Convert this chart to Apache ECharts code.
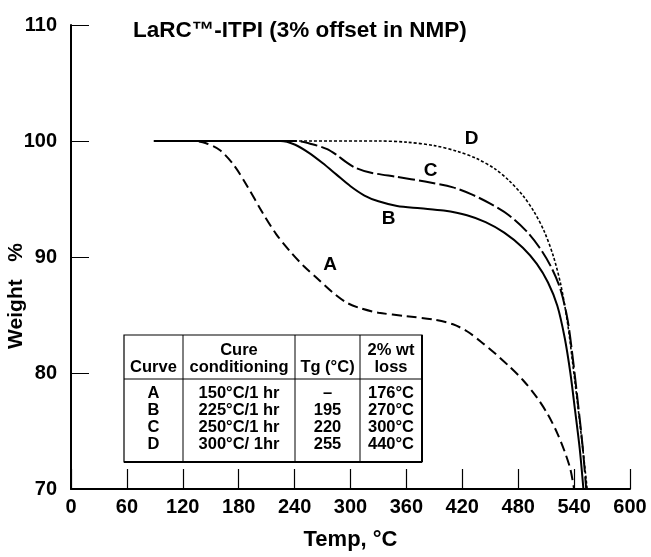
<!DOCTYPE html>
<html style="height: 100%">
<head>
<meta charset="utf-8">
<style type="text/css">
* {
	margin: 0;
	padding: 0;
}
</style>
</head>
<body style="height: 100%; margin: 0; background: #fff">
	<div id="main" style="width: 651px; height: 557px"></div>
	<script type="text/javascript" src="https://cdn.jsdelivr.net/npm/echarts/dist/echarts.min.js"></script>
	<script type="text/javascript">
	// TGA curves, [temp C, weight %]
	var curveA = [[89, 100], [130, 100], [145, 99.8], [160, 99.2], [175, 97.9], [190, 96.0], [205, 93.9],
		[220, 92.0], [235, 90.5], [250, 89.2], [265, 88.1], [280, 87.0], [295, 86.1], [310, 85.6],
		[330, 85.2], [360, 84.9], [390, 84.6], [410, 84.2], [425, 83.6], [440, 82.7], [455, 81.7],
		[470, 80.6], [485, 79.4], [500, 77.9], [512, 76.4], [522, 74.8], [530, 73.2], [536, 71.7], [540, 70]];
	var curveB = [[89, 100], [225, 100], [240, 99.7], [255, 99.0], [270, 98.1], [285, 97.1], [300, 96.1],
		[315, 95.3], [330, 94.8], [350, 94.4], [375, 94.2], [400, 94.0], [425, 93.6], [445, 93.0],
		[465, 92.1], [485, 90.8], [500, 89.4], [512, 87.8], [522, 85.8], [530, 83.0], [536, 80.0],
		[541, 76.8], [546, 73.5], [550, 70]];
	var curveC = [[89, 100], [240, 100], [260, 99.7], [275, 99.3], [285, 98.8], [295, 98.2], [305, 97.7],
		[320, 97.3], [350, 96.9], [380, 96.5], [410, 96.0], [430, 95.4], [450, 94.6], [470, 93.6],
		[488, 92.3], [503, 90.8], [515, 89.2], [525, 87.3], [533, 84.6], [539, 81.0], [544, 77.5],
		[549, 73.8], [553, 70]];
	var curveD = [[89, 100], [330, 100], [360, 99.9], [390, 99.6], [415, 99.1], [435, 98.5], [455, 97.6],
		[470, 96.6], [485, 95.3], [497, 93.9], [508, 92.2], [518, 90.0], [526, 87.5], [533, 84.3],
		[539, 80.5], [545, 76.5], [550, 73.0], [554, 70]];

	var curveNames = ['A', 'B', 'C', 'D'];
	var curveLabelAt = [[278, 89.3], [341, 93.3], [386, 97.4], [430, 100.15]];

	var xTicks = [0, 600, 60];   // min, max, step
	var yTicks = [70, 110, 10];

	var tableHead = [['', 'Curve'], ['Cure', 'conditioning'], ['', 'Tg (°C)'], ['2% wt', 'loss']];
	var tableRows = [
		['A', '150°C/1 hr', '–', '176°C'],
		['B', '225°C/1 hr', '195', '270°C'],
		['C', '250°C/1 hr', '220', '300°C'],
		['D', '300°C/ 1hr', '255', '440°C']
	];

	var font = '"Liberation Sans", Arial, Helvetica, sans-serif';

	// table layout (pixels)
	var tLeft = 124, tTop = 335, tRight = 422, tBottom = 462, tHeadLine = 379;
	var colEdges = [124, 183, 295, 360, 422];
	var graphics = [];
	graphics.push({type: 'rect', shape: {x: tLeft, y: tTop, width: tRight - tLeft, height: tBottom - tTop},
		style: {fill: '#fff', stroke: '#000', lineWidth: 1.2}, z: 10});
	graphics.push({type: 'line', shape: {x1: tRight, y1: tTop, x2: tRight, y2: tBottom}, style: {stroke: '#000', lineWidth: 2}, z: 11});
	graphics.push({type: 'line', shape: {x1: tLeft, y1: tBottom, x2: tRight, y2: tBottom}, style: {stroke: '#000', lineWidth: 2}, z: 11});
	graphics.push({type: 'line', shape: {x1: tLeft, y1: tHeadLine, x2: tRight, y2: tHeadLine}, style: {stroke: '#000', lineWidth: 1}, z: 11});
	for (var c = 1; c < colEdges.length - 1; c++) {
		graphics.push({type: 'line', shape: {x1: colEdges[c], y1: tTop, x2: colEdges[c], y2: tBottom},
			style: {stroke: '#000', lineWidth: 1}, z: 11});
	}
	for (var c = 0; c < tableHead.length; c++) {
		var cx = (colEdges[c] + colEdges[c + 1]) / 2;
		for (var l = 0; l < 2; l++) {
			graphics.push({type: 'text', x: cx, y: 350 + l * 17, z: 12,
				style: {text: tableHead[c][l], font: 'bold 16.5px ' + font, fill: '#000', align: 'center', verticalAlign: 'middle'}});
		}
		for (var r = 0; r < tableRows.length; r++) {
			graphics.push({type: 'text', x: cx, y: 393 + r * 17, z: 12,
				style: {text: tableRows[r][c], font: 'bold 16.5px ' + font, fill: '#000', align: 'center', verticalAlign: 'middle'}});
		}
	}
	// y axis title
	graphics.push({type: 'text', x: 16, y: 296, rotation: Math.PI / 2,
		style: {text: 'Weight   %', font: 'bold 21px ' + font, fill: '#000', align: 'center', verticalAlign: 'middle'}});

	var styles = [
		{type: [10, 5], width: 2},
		{type: 'solid', width: 2},
		{type: [17, 4], width: 2},
		{type: [3, 2], width: 1.6}
	];
	var curves = [curveA, curveB, curveC, curveD];
	var series = curves.map(function (d, i) {
		return {
			type: 'line', name: curveNames[i], data: d, showSymbol: false,
			smooth: 0.3, animation: false,
			lineStyle: {color: '#000', width: styles[i].width, type: styles[i].type}
		};
	});
	series.push({
		type: 'scatter', symbolSize: 0, animation: false,
		itemStyle: {opacity: 1, color: '#000'},
		data: curveLabelAt.map(function (p, i) { return {name: curveNames[i], value: p}; }),
		label: {show: true, position: 'inside', formatter: '{b}', color: '#000',
			fontFamily: font, fontWeight: 'bold', fontSize: 19}
	});

	var myChart = echarts.init(document.getElementById('main'));
	myChart.setOption({
		backgroundColor: '#fff',
		animation: false,
		title: {
			text: 'LaRC™-ITPI (3% offset in NMP)', left: 128, top: 14,
			textStyle: {fontFamily: font, fontWeight: 'bold', fontSize: 22.5, color: '#000'}
		},
		grid: {left: 71, right: 21, top: 25, bottom: 68},
		xAxis: {
			type: 'value', min: xTicks[0], max: xTicks[1], interval: xTicks[2],
			name: 'Temp, °C', nameLocation: 'middle', nameGap: 40,
			nameTextStyle: {fontFamily: font, fontWeight: 'bold', fontSize: 22, color: '#000'},
			axisLine: {lineStyle: {color: '#000', width: 2}},
			axisTick: {inside: true, length: 20, lineStyle: {color: '#000', width: 1.2}},
			axisLabel: {fontFamily: font, fontWeight: 'bold', fontSize: 20, color: '#000', margin: 8},
			splitLine: {show: false}
		},
		yAxis: {
			type: 'value', min: yTicks[0], max: yTicks[1], interval: yTicks[2],
			axisLine: {show: true, lineStyle: {color: '#000', width: 2}},
			axisTick: {show: true, inside: true, length: 18, lineStyle: {color: '#000', width: 1}},
			axisLabel: {fontFamily: font, fontWeight: 'bold', fontSize: 20, color: '#000', margin: 14},
			splitLine: {show: false}
		},
		series: series,
		graphic: graphics
	});
	</script>
</body>
</html>
